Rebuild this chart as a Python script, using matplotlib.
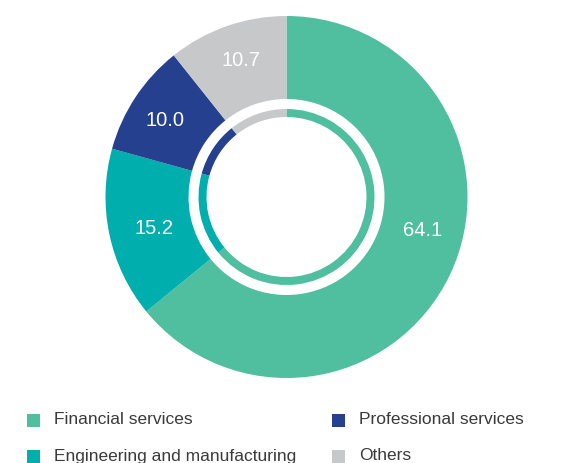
import matplotlib.pyplot as plt
from matplotlib.patches import Rectangle

plt.rcParams['font.family'] = ['Liberation Sans', 'DejaVu Sans']

# data
sectors = ['Financial services', 'Engineering and manufacturing',
           'Professional services', 'Others']
shares = [64.1, 15.2, 10.0, 10.7]
colors = ['#4fbf9f', '#00aeae', '#25408f', '#c7c8ca']

W, H = 585, 463
fig = plt.figure(figsize=(W / 100, H / 100), dpi=100)
ax = fig.add_axes([0, 0, 1, 1])

cx, cy = 286.5, H - 197

# outer ring
wedges, _ = ax.pie(shares, colors=colors, startangle=90, counterclock=False,
                   radius=181, center=(cx, cy), frame=True,
                   wedgeprops=dict(width=83, linewidth=0))
# thin inner ring
ax.pie(shares, colors=colors, startangle=90, counterclock=False,
       radius=88, center=(cx, cy), frame=True,
       wedgeprops=dict(width=8, linewidth=0))
ax.set_xlim(0, W)
ax.set_ylim(0, H)
ax.set_aspect('equal')
ax.axis('off')

# value labels (pixel positions, y from top)
label_pos = [(423, 231), (154, 228), (165, 120), (241, 60)]
for v, (x, y) in zip(shares, label_pos):
    ax.text(x, H - y, f'{v:.1f}', color='white', fontsize=14.5,
            ha='center', va='center')

# legend
leg_pos = [(27, 420), (27, 456), (332, 420), (332, 456)]
for name, c, (x, y) in zip(sectors, colors, leg_pos):
    ax.add_patch(Rectangle((x, H - y - 6.5), 12.5, 13, color=c, lw=0))
    ax.text(x + 27, H - y, name, color='#3a3a3a', fontsize=12.5,
            ha='left', va='center')

fig.savefig('out.png', dpi=100)
